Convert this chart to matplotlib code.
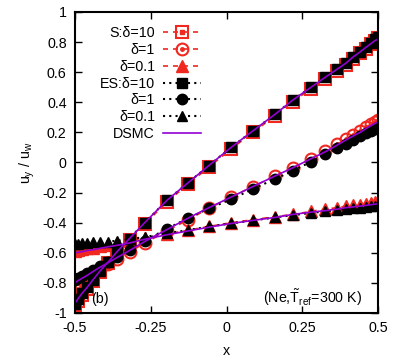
import matplotlib
matplotlib.use('Agg')
import matplotlib.pyplot as plt
from matplotlib.legend_handler import HandlerTuple

plt.rcParams['font.family'] = ['Liberation Sans', 'DejaVu Sans']
plt.rcParams['mathtext.fontset'] = 'custom'
plt.rcParams['mathtext.rm'] = 'Liberation Sans'
plt.rcParams['mathtext.it'] = 'Liberation Sans'
plt.rcParams['axes.unicode_minus'] = False

# grid points (x / H)
x = [-0.5, -0.49, -0.477, -0.46, -0.441, -0.417, -0.39, -0.36, -0.32, -0.27,
     -0.196, -0.127, -0.058, 0.015, 0.087, 0.16, 0.219, 0.279, 0.325, 0.365,
     0.394, 0.417, 0.441, 0.46, 0.477, 0.49, 0.5]

# S model
s_d10 = [-0.95, -0.92, -0.88, -0.84, -0.79, -0.73, -0.67, -0.60, -0.515, -0.41,
         -0.26, -0.145, -0.03, 0.09, 0.20, 0.31, 0.405, 0.49, 0.555, 0.61,
         0.65, 0.69, 0.725, 0.755, 0.785, 0.81, 0.825]
s_d1 = [-0.81, -0.795, -0.78, -0.76, -0.735, -0.705, -0.675, -0.64, -0.595, -0.535,
        -0.455, -0.38, -0.305, -0.23, -0.16, -0.09, -0.035, 0.025, 0.075, 0.12,
        0.155, 0.18, 0.21, 0.235, 0.255, 0.27, 0.285]
s_d01 = [-0.585, -0.58, -0.575, -0.57, -0.565, -0.555, -0.545, -0.535, -0.52, -0.50,
         -0.475, -0.45, -0.425, -0.40, -0.38, -0.36, -0.345, -0.325, -0.31, -0.30,
         -0.29, -0.285, -0.28, -0.275, -0.27, -0.265, -0.26]

# ES model
es_d10 = [-0.94, -0.91, -0.87, -0.83, -0.78, -0.72, -0.66, -0.59, -0.505, -0.40,
          -0.25, -0.135, -0.02, 0.10, 0.21, 0.32, 0.415, 0.50, 0.565, 0.62,
          0.66, 0.70, 0.735, 0.765, 0.795, 0.82, 0.835]
es_d1 = [-0.78, -0.77, -0.755, -0.737, -0.715, -0.69, -0.66, -0.625, -0.58, -0.52,
         -0.44, -0.37, -0.305, -0.245, -0.175, -0.11, -0.055, 0.005, 0.055, 0.095,
         0.125, 0.15, 0.175, 0.195, 0.212, 0.225, 0.235]
es_d01 = [-0.54, -0.54, -0.535, -0.535, -0.53, -0.53, -0.525, -0.52, -0.51, -0.495,
          -0.47, -0.45, -0.425, -0.405, -0.385, -0.365, -0.35, -0.335, -0.325, -0.315,
          -0.31, -0.305, -0.30, -0.295, -0.29, -0.29, -0.285]

# DSMC
dsmc_d10 = [-0.935, -0.905, -0.87, -0.83, -0.78, -0.72, -0.66, -0.59, -0.505, -0.40,
            -0.25, -0.135, -0.02, 0.10, 0.21, 0.32, 0.415, 0.50, 0.565, 0.62,
            0.66, 0.70, 0.735, 0.765, 0.79, 0.81, 0.82]
dsmc_d1 = [-0.80, -0.785, -0.77, -0.75, -0.725, -0.695, -0.665, -0.63, -0.585, -0.525,
           -0.445, -0.37, -0.30, -0.23, -0.16, -0.09, -0.035, 0.025, 0.07, 0.115,
           0.15, 0.175, 0.2, 0.225, 0.245, 0.26, 0.27]
dsmc_d01 = [-0.60, -0.597, -0.593, -0.585, -0.58, -0.57, -0.56, -0.55, -0.535, -0.51,
            -0.48, -0.455, -0.43, -0.405, -0.385, -0.365, -0.345, -0.33, -0.32, -0.31,
            -0.30, -0.295, -0.29, -0.285, -0.28, -0.277, -0.275]

red = '#f02820'
purple = '#9400d3'

fig = plt.figure(figsize=(3.98, 3.62), dpi=100)
ax = fig.add_axes([75/398, 49/362, 303/398, 301/362])

# S model (red, dashed)
ls_d = (0, (3, 3))
a1, = ax.plot(x, s_d10, color=red, ls=ls_d, lw=1.2, marker='s', ms=8.5,
              mfc='none', mec=red, mew=1.5)
a1b, = ax.plot(x, s_d10, ls='none', marker='s', ms=3, mfc=red, mec=red)
a2, = ax.plot(x, s_d1, color=red, ls=ls_d, lw=1.2, marker='o', ms=8.5,
              mfc='none', mec=red, mew=1.5)
a2b, = ax.plot(x, s_d1, ls='none', marker='o', ms=2.5, mfc=red, mec=red)
a3, = ax.plot(x, s_d01, color=red, ls=ls_d, lw=1.2, marker='^', ms=8.5,
              mfc=red, mec=red)

# ES model (black, dotted)
ls_p = (0, (1, 2))
b1, = ax.plot(x, es_d10, color='black', ls=ls_p, lw=1.5, marker='s', ms=7.5)
b2, = ax.plot(x, es_d1, color='black', ls=ls_p, lw=1.5, marker='o', ms=7.5)
b3, = ax.plot(x, es_d01, color='black', ls=ls_p, lw=1.5, marker='^', ms=6.5)

# DSMC
c1, = ax.plot(x, dsmc_d10, color=purple, lw=1.2)
ax.plot(x, dsmc_d1, color=purple, lw=1.2)
ax.plot(x, dsmc_d01, color=purple, lw=1.2)

ax.set_xlim(-0.5, 0.5)
ax.set_ylim(-1, 1)
ax.set_xticks([-0.5, -0.25, 0, 0.25, 0.5])
ax.set_xticklabels(['-0.5', '-0.25', '0', '0.25', '0.5'])
ax.set_yticks([-1, -0.8, -0.6, -0.4, -0.2, 0, 0.2, 0.4, 0.6, 0.8, 1])
ax.set_yticklabels(['-1', '-0.8', '-0.6', '-0.4', '-0.2', '0', '0.2', '0.4',
                    '0.6', '0.8', '1'])
ax.tick_params(direction='in', top=True, right=True, length=5, width=1,
               labelsize=10.3, pad=6)
for sp in ax.spines.values():
    sp.set_linewidth(1.5)

ax.set_xlabel('x', fontsize=10.3, labelpad=6)
ax.set_ylabel(r'$u_y$ / $u_w$', fontsize=10.3, labelpad=4)

ax.text(-0.447, -0.905, '(b)', fontsize=10.3, ha='left', va='center')
ax.text(0.447, -0.9, r'(Ne,$\tilde{T}_{\rm ref}$=300 K)', fontsize=10.3,
        ha='right', va='center')

handles = [(a1, a1b), (a2, a2b), a3, b1, b2, b3, c1]
labels = ['S:δ=10', 'δ=1', 'δ=0.1', 'ES:δ=10', 'δ=1', 'δ=0.1', 'DSMC']
leg = ax.legend(handles, labels, handler_map={tuple: HandlerTuple(ndivide=1)},
                loc='upper right', bbox_to_anchor=(201/398, 1 - 26/362),
                bbox_transform=fig.transFigure, frameon=False, markerfirst=False,
                numpoints=1, fontsize=10.3, handlelength=2.66, handletextpad=0.55,
                labelspacing=0.2, borderpad=0, borderaxespad=0)

fig.savefig('out.png', dpi=100)
